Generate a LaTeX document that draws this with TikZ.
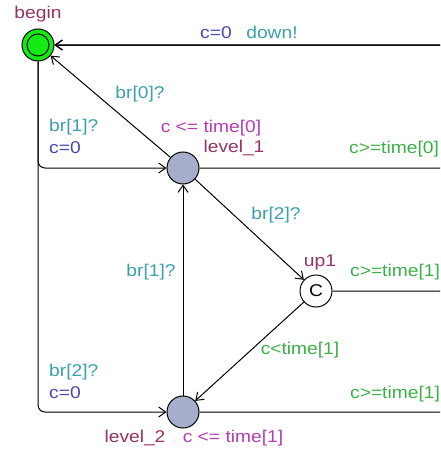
\documentclass[tikz,border=0pt]{standalone}
\usepackage{fontspec}
\setmainfont{Liberation Sans}[FakeStretch=1.13]
\usetikzlibrary{positioning, arrows.meta}

\definecolor{namecol}{RGB}{150,50,100}
\definecolor{invcol}{RGB}{180,60,180}
\definecolor{synccol}{RGB}{60,160,170}
\definecolor{updcol}{RGB}{70,70,180}
\definecolor{guardcol}{RGB}{60,175,70}
\definecolor{locfill}{RGB}{166,174,204}
\definecolor{initfill}{RGB}{20,235,20}

\begin{document}
\begin{tikzpicture}[
        x=1pt, y=-1pt,
        font=\fontsize{17}{20}\selectfont,
        on grid,
        edge/.style={-{Straight Barb[length=7pt,width=10pt]}, line width=1pt, rounded corners=7pt},
        loc/.style={draw, circle, line width=1pt, fill=locfill, minimum size=32pt, inner sep=0pt},
        initloc/.style={loc, fill=initfill},
        committed/.style={loc, fill=white},
        lbl/.style={inner sep=0pt, text height=12.5pt, text depth=3.5pt},
        locname/.style={lbl, text=namecol},
        inv/.style={lbl, text=invcol},
        sync/.style={lbl, text=synccol},
        upd/.style={lbl, text=updcol},
        guard/.style={lbl, text=guardcol}
    ]
    \useasboundingbox (0,0) rectangle (440,455);
    \clip (0,0) rectangle (440,455);

    % locations
    \node[initloc] (begin) at (38,45) {};
    \draw[line width=1pt] (begin) circle (11pt);
    \node[loc, below right=123pt and 145pt of begin] (level_1) {};
    \node[committed, below right=123pt and 133pt of level_1] (up1) {C};
    \node[loc, below=244pt of level_1] (level_2) {};
    \coordinate (rtop) at (447,45);

    \node[locname, above=31pt of begin] (begin_name) {begin};
    \node[locname, above right=20pt and 51pt of level_1] (level_1_name) {level\_1};
    \node[inv, above right=40pt and 28pt of level_1] (level_1_inv) {c <= time[0]};
    \node[locname, above right=29pt and 4pt of up1] (up1_name) {up1};
    \node[locname, below left=26pt and 48pt of level_2] (level_2_name) {level\_2};
    \node[inv, below right=26pt and 50pt of level_2] (level_2_inv) {c <= time[1]};

    % edges
    \draw[edge] (begin) |- (level_1);
    \draw[edge] (begin) |- (level_2);
    \draw[edge] (level_1) -- (begin);
    \draw[edge] (level_1) -- (up1);
    \draw[edge] (up1) -- (level_2);
    \draw[edge] (level_2) -- (level_1);
    \draw[edge] (level_2) -| (rtop) -- (begin);
    \draw[edge] (up1) -| (rtop) -- (begin);
    \draw[edge] (level_1) -| (rtop) -- (begin);

    % edge labels
    \node[upd] (upd_down) at (216,34) {c=0};
    \node[sync] (sync_down) at (272,34) {down!};
    \node[sync] (sync_br0) at (140,94) {br[0]?};
    \node[sync, anchor=west] (sync_br1a) at (49,127) {br[1]?};
    \node[upd, anchor=west] (upd_br1a) at (49,149) {c=0};
    \node[guard, anchor=west] (guard_t0) at (349,149) {c>=time[0]};
    \node[sync] (sync_br2a) at (276,215) {br[2]?};
    \node[sync] (sync_br1b) at (151,272) {br[1]?};
    \node[guard, anchor=west] (guard_t1a) at (350,272) {c>=time[1]};
    \node[guard] (guard_lt1) at (300,350) {c<time[1]};
    \node[sync, anchor=west] (sync_br2b) at (49,372) {br[2]?};
    \node[upd, anchor=west] (upd_br2b) at (49,394) {c=0};
    \node[guard, anchor=west] (guard_t1b) at (350,394) {c>=time[1]};

\end{tikzpicture}
\end{document}
